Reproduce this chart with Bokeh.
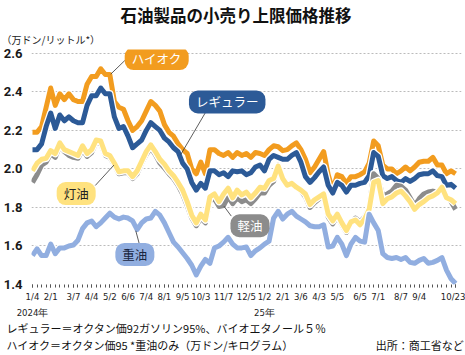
from bokeh.plotting import figure
from bokeh.models import Range1d, FixedTicker, Label, Title
from bokeh.embed import file_html
from bokeh.resources import INLINE

# ---- data (one value per price adjustment, 2024/1/4 .. 2025/10/23) ----
n_points = 94
xs = list(range(n_points))

high_octane = [2.19, 2.19, 2.22, 2.32, 2.42, 2.33, 2.39, 2.36, 2.39, 2.36,
               2.35, 2.35, 2.44, 2.48, 2.48, 2.52, 2.49, 2.49, 2.35, 2.32,
               2.31, 2.25, 2.20, 2.22, 2.25, 2.30, 2.35, 2.33, 2.30, 2.23,
               2.19, 2.17, 2.13, 2.10, 2.08, 2.00, 1.975, 2.035, 1.975, 2.10,
               2.10, 2.08, 2.07, 2.085, 2.06, 2.085, 2.07, 2.08, 2.06, 2.085,
               2.08, 2.07, 2.10, 2.12, 2.115, 2.095, 2.10, 2.12, 2.135, 2.10,
               2.05, 1.98, 2.01, 2.05, 2.09, 1.97, 1.89, 1.97, 1.96, 1.925,
               1.96, 1.96, 1.97, 1.985, 2.03, 2.145, 2.12, 2.02, 2.00, 2.00,
               1.975, 1.99, 2.01, 1.99, 2.01, 2.035, 2.04, 2.04, 2.06, 2.02,
               2.02, 1.975, 1.99, 1.975]

regular = [2.10, 2.10, 2.13, 2.22, 2.29, 2.21, 2.28, 2.25, 2.27, 2.25,
           2.24, 2.24, 2.33, 2.38, 2.38, 2.42, 2.39, 2.39, 2.27, 2.21,
           2.22, 2.17, 2.11, 2.13, 2.15, 2.20, 2.24, 2.22, 2.20, 2.16,
           2.14, 2.11, 2.09, 2.03, 2.00, 1.93, 1.89, 1.925, 1.90, 1.99,
           1.99, 1.97, 1.98, 1.96, 1.99, 1.985, 1.99, 1.97, 1.98, 2.01,
           2.02, 1.99, 2.05, 2.07, 2.06, 2.05, 2.05, 2.07, 2.085, 2.035,
           1.96, 1.93, 1.955, 1.985, 2.01, 1.915, 1.875, 1.93, 1.915, 1.88,
           1.915, 1.915, 1.925, 1.93, 1.965, 2.085, 2.065, 1.965, 1.95, 1.96,
           1.94, 1.93, 1.95, 1.935, 1.95, 1.97, 1.975, 1.975, 1.99, 1.965,
           1.96, 1.915, 1.92, 1.90]

kerosene = [1.99, 2.03, 2.05, 2.055, 2.095, 2.08, 2.135, 2.10, 2.09, 2.08,
            2.07, 2.12, 2.08, 2.10, 2.15, 2.145, 2.08, 2.07, 2.03, 1.985,
            1.99, 1.99, 1.96, 1.99, 2.04, 2.09, 2.125, 2.09, 2.05, 2.025,
            1.99, 1.965, 1.93, 1.89, 1.83, 1.76, 1.72, 1.765, 1.735, 1.855,
            1.87, 1.83, 1.87, 1.90, 1.85, 1.89, 1.865, 1.88, 1.85, 1.875,
            1.905, 1.90, 1.94, 1.95, 2.015, 1.95, 1.915, 1.925, 1.905, 1.89,
            1.87, 1.815, 1.84, 1.855, 1.87, 1.765, 1.73, 1.765, 1.72, 1.68,
            1.725, 1.735, 1.71, 1.74, 1.79, 1.93, 1.94, 1.82, 1.845, 1.855,
            1.875, 1.885, 1.86, 1.83, 1.79, 1.815, 1.83, 1.85, 1.86, 1.875,
            1.905, 1.85, 1.84, 1.82]

diesel = [1.93, 1.97, 2.02, 2.035, 2.08, 2.06, 2.12, 2.09, 2.07, 2.06,
          2.055, 2.10, 2.065, 2.085, 2.14, 2.13, 2.07, 2.06, 2.02, 1.975,
          1.98, 1.98, 1.95, 1.975, 2.03, 2.075, 2.11, 2.075, 2.03, 2.005,
          1.975, 1.95, 1.915, 1.87, 1.81, 1.745, 1.705, 1.745, 1.72, 1.835,
          1.845, 1.805, 1.81, 1.855, 1.82, 1.85, 1.83, 1.84, 1.82, 1.845,
          1.875, 1.875, 1.915, 1.935, 2.02, 1.955, 1.92, 1.925, 1.905, 1.885,
          1.855, 1.80, 1.825, 1.845, 1.86, 1.75, 1.715, 1.755, 1.71, 1.67,
          1.72, 1.745, 1.725, 1.75, 1.80, 1.975, 1.95, 1.86, 1.87, 1.885,
          1.915, 1.91, 1.89, 1.85, 1.81, 1.845, 1.87, 1.88, 1.885, 1.88,
          1.885, 1.86, 1.83, 1.79]

fuel_oil = [1.55, 1.585, 1.55, 1.55, 1.61, 1.56, 1.59, 1.59, 1.60, 1.605,
            1.63, 1.69, 1.72, 1.73, 1.70, 1.72, 1.745, 1.77, 1.75, 1.74,
            1.75, 1.745, 1.73, 1.685, 1.72, 1.74, 1.745, 1.78, 1.76, 1.72,
            1.67, 1.62, 1.595, 1.565, 1.535, 1.50, 1.45, 1.495, 1.53, 1.51,
            1.59, 1.60, 1.62, 1.645, 1.61, 1.59, 1.59, 1.595, 1.55, 1.575,
            1.59, 1.61, 1.625, 1.745, 1.78, 1.74, 1.765, 1.78, 1.755, 1.74,
            1.725, 1.705, 1.70, 1.70, 1.71, 1.595, 1.60, 1.645, 1.61, 1.55,
            1.61, 1.645, 1.625, 1.62, 1.765, 1.72, 1.68, 1.56, 1.54, 1.535,
            1.54, 1.53, 1.54, 1.515, 1.51, 1.525, 1.535, 1.51, 1.515, 1.525,
            1.54, 1.475, 1.43, 1.405]

tick_idx = [0, 4, 9, 13, 17, 21, 25, 29, 33, 37, 42, 47, 51, 55, 59, 63, 67,
            72, 76, 81, 85, 93]
tick_labels = ["1/4\n2024年", "2/1", "3/7", "4/4", "5/2", "6/6", "7/4", "8/1",
               "9/5", "10/3", "11/7", "12/5", "1/2\n25年", "2/1", "3/6", "4/3",
               "5/5", "6/5", "7/1", "8/7", "9/4", "10/23"]
y_ticks = [1.4, 1.6, 1.8, 2.0, 2.2, 2.4, 2.6]
y_tick_labels = ["1.4", "1.6", "1.8", "2.0", "2.2", "2.4", "2.6"]

series_names = ["ハイオク", "レギュラー", "軽油", "灯油", "重油"]
title_text = "石油製品の小売り上限価格推移"
unit_text = "（万ドン/リットル*）"
note1 = "レギュラー＝オクタン価92ガソリン95%、バイオエタノール５％"
note2 = "ハイオク＝オクタン価95 *重油のみ（万ドン/キログラム）"
source_text = "出所：商工省など"

# ---- styles ----
C_HIGH = "#F29C1F"
C_REG = "#2C5A97"
C_KERO = "#FFE27F"
C_DIES = "#8C8C8C"
C_FUEL = "#91AEE0"
JP = "Noto Sans CJK JP"

FL, FB, FR, FT = 28, 287, 461, 48  # frame edges in canvas pixels

p = figure(width=465, height=355, output_backend="svg", toolbar_location=None,
           title=None,
           x_range=Range1d(-0.22, 94.3), y_range=Range1d(1.4, 2.62),
           min_border_left=FL, min_border_right=465 - FR, min_border_top=FT,
           min_border_bottom=355 - FB)
p.outline_line_color = None
p.background_fill_color = "white"
p.border_fill_color = "white"

p.xgrid.visible = False
p.ygrid.ticker = FixedTicker(ticks=y_ticks)
p.ygrid.grid_line_color = "#BBBBBB"
p.ygrid.grid_line_dash = "2 2"
p.ygrid.grid_line_width = 1

p.yaxis.ticker = FixedTicker(ticks=y_ticks)
p.yaxis.major_label_overrides = {v: s for v, s in zip(y_ticks, y_tick_labels)}
p.yaxis.axis_line_color = None
p.yaxis.major_tick_line_color = None
p.yaxis.minor_tick_line_color = None
p.yaxis.major_label_standoff = 3
p.yaxis.major_label_text_font = "Roboto"
p.yaxis.major_label_text_font_style = "bold"
p.yaxis.major_label_text_font_size = "13px"
p.yaxis.major_label_text_color = "#1a1a1a"

p.xaxis.ticker = FixedTicker(ticks=tick_idx, minor_ticks=xs)
p.xaxis.major_label_overrides = {i: lab for i, lab in zip(tick_idx, tick_labels)}
p.xaxis.axis_line_color = None
p.xaxis.major_tick_in = 0
p.xaxis.major_tick_out = 3
p.xaxis.minor_tick_in = 0
p.xaxis.minor_tick_out = 3
p.xaxis.major_tick_line_color = "#555555"
p.xaxis.minor_tick_line_color = "#555555"
p.xaxis.major_label_standoff = 3
p.xaxis.major_label_text_font = "'DejaVu Sans Condensed', Roboto, sans-serif"
p.xaxis.major_label_text_font_size = "9.5px"
p.xaxis.major_label_text_line_height = 1.5
p.xaxis.major_label_text_color = "#222222"

# ---- lines (white casing under each) ----
for ys, col in [(high_octane, C_HIGH), (regular, C_REG), (diesel, C_DIES),
                (kerosene, C_KERO), (fuel_oil, C_FUEL)]:
    p.line(xs, ys, line_color="white", line_width=7.5, line_join="round")
    p.line(xs, ys, line_color=col, line_width=5, line_join="round")

# ---- leader lines ----
p.segment(x0=[20.3, 38.0, 13.8, 43.7, 23.6], y0=[2.563, 2.292, 1.914, 1.755, 1.60],
          x1=[17.2, 32.6, 17.9, 42.1, 22.7], y1=[2.492, 2.075, 2.02, 1.806, 1.679],
          line_color="#333333", line_width=0.8)

# ---- callout labels ----
callouts = [
    (series_names[0], 27.3, 2.573, C_HIGH, "white"),
    (series_names[1], 42.8, 2.348, C_REG, "white"),
    (series_names[3], 9.6, 1.872, C_KERO, "#222222"),
    (series_names[2], 47.8, 1.705, C_DIES, "white"),
    (series_names[4], 22.5, 1.556, C_FUEL, "#1A2640"),
]
for txt, cx, cy, bg, fg in callouts:
    p.add_layout(Label(x=cx, y=cy, text=txt, text_align="center",
                       text_baseline="middle", text_font=JP,
                       text_font_size="12.5px", text_color=fg,
                       background_fill_color=bg, border_radius=9,
                       padding=(7, 2)))

# ---- titles / notes in side panels ----
p.add_layout(Title(text=unit_text, align="left", offset=-30, standoff=6,
                   text_font=JP, text_font_size="10px", text_font_style="normal",
                   text_color="#222222", vertical_align="bottom"), "above")
p.add_layout(Title(text=title_text, align="left", offset=89, standoff=0,
                   text_font=JP, text_font_size="16.5px", text_font_style="bold",
                   text_color="#111111", vertical_align="bottom"), "above")

p.add_layout(Title(text=note1, align="left", offset=-25, standoff=-4,
                   text_font=JP, text_font_size="11px", text_font_style="normal",
                   text_color="#111111", vertical_align="top"), "below")
p.add_layout(Title(text=note2 + "\u3000" * 8 + source_text, align="left",
                   offset=-25, standoff=2,
                   text_font=JP, text_font_size="11px", text_font_style="normal",
                   text_color="#111111", vertical_align="top"), "below")

open("out.html", "w").write(file_html(p, INLINE))
